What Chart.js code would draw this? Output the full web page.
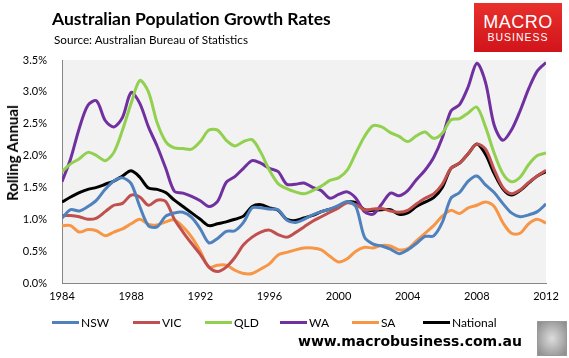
<!DOCTYPE html>
<html>
<head>
<meta charset="utf-8">
<script src="https://cdn.jsdelivr.net/npm/chart.js@4/dist/chart.umd.min.js"></script>
<style>
  body { margin: 0; background: #fff; }
  #wrap { position: relative; width: 569px; height: 358px; overflow: hidden; font-family: Lato, "Open Sans", sans-serif; }
  #chart { position: absolute; left: 0; top: 0; }
  .title { position: absolute; left: 52px; top: 8px; font-size: 17.5px; font-weight: bold; color: #000; }
  .sub { position: absolute; left: 54px; top: 32px; font-size: 11.7px; color: #000; }
  .ytitle { position: absolute; left: 12px; top: 153px; transform: translate(-50%, -50%) rotate(-90deg); font-size: 15px; font-weight: bold; white-space: nowrap; }
  .logo { position: absolute; left: 474px; top: 3px; width: 88px; height: 49px; background: linear-gradient(#e8302c, #d1141a); color: #fff; text-align: center; font-family: "Liberation Sans", Arial, sans-serif; }
  .logo .m { font-size: 18px; margin-top: 10px; line-height: 18px; letter-spacing: 0.5px; }
  .logo .b { font-size: 10.5px; line-height: 13px; letter-spacing: 1px; }
  .legend { position: absolute; top: 315px; left: 0; font-size: 12px; }
  .legend span { position: absolute; white-space: nowrap; }
  .legend i { display: inline-block; width: 27px; height: 3px; vertical-align: middle; margin-right: 2px; position: relative; top: -1px; }
  .web { position: absolute; left: 298px; top: 333px; font-family: "DejaVu Sans", sans-serif; font-weight: bold; font-size: 14px; color: #000; }
  .wolf { position: absolute; left: 537px; top: 321px; width: 28px; height: 33px; border: 1px solid #999; background: radial-gradient(#ddd, #888); }
</style>
</head>
<body>
<div id="wrap">
  <canvas id="chart" width="569" height="358"></canvas>
  <div class="title">Australian Population Growth Rates</div>
  <div class="sub">Source: Australian Bureau of Statistics</div>
  <div class="ytitle">Rolling Annual</div>
  <div class="logo"><div class="m">MACRO</div><div class="b">BUSINESS</div></div>
  <div class="legend" id="legend"></div>
  <div class="web">www.macrobusiness.com.au</div>
  <div class="wolf"></div>
</div>
<script>
// half-yearly observations, 1984.0 .. 2012.0
const years = [];
for (let y = 1984; y <= 2012; y += 0.5) years.push(y);

const nsw = [1.02, 1.15, 1.13, 1.20, 1.30, 1.47, 1.60, 1.65, 1.56, 1.20,
  0.90, 0.88, 1.05, 1.10, 1.11, 1.03, 0.85, 0.63, 0.70, 0.81,
  0.82, 0.95, 1.18, 1.18, 1.16, 1.15, 0.99, 0.95, 1.00, 1.07,
  1.12, 1.16, 1.22, 1.28, 1.20, 0.72, 0.61, 0.58, 0.53, 0.46,
  0.52, 0.62, 0.73, 0.74, 0.95, 1.33, 1.42, 1.60, 1.68, 1.54,
  1.42, 1.25, 1.10, 1.04, 1.07, 1.12, 1.24];
const vic = [1.06, 1.06, 1.04, 1.00, 1.02, 1.12, 1.22, 1.25, 1.38, 1.35,
  1.22, 1.30, 1.28, 1.00, 0.80, 0.62, 0.45, 0.25, 0.18, 0.25,
  0.40, 0.60, 0.72, 0.80, 0.83, 0.76, 0.72, 0.79, 0.88, 0.97,
  1.04, 1.11, 1.18, 1.26, 1.23, 1.15, 1.16, 1.17, 1.13, 1.11,
  1.14, 1.24, 1.33, 1.40, 1.55, 1.80, 1.88, 2.03, 2.18, 2.10,
  1.78, 1.50, 1.40, 1.46, 1.58, 1.68, 1.77];
const qld = [1.75, 1.87, 1.95, 2.05, 2.00, 1.92, 2.05, 2.40, 2.82, 3.18,
  3.00, 2.52, 2.22, 2.12, 2.11, 2.10, 2.22, 2.40, 2.40, 2.24,
  2.15, 2.22, 2.25, 2.05, 1.77, 1.56, 1.48, 1.43, 1.40, 1.45,
  1.52, 1.61, 1.65, 1.77, 2.04, 2.30, 2.47, 2.45, 2.36, 2.30,
  2.22, 2.31, 2.37, 2.27, 2.35, 2.56, 2.58, 2.67, 2.76, 2.45,
  2.04, 1.72, 1.59, 1.66, 1.86, 2.00, 2.04];
const wa = [1.59, 1.95, 2.43, 2.79, 2.86, 2.55, 2.45, 2.60, 2.99, 2.82,
  2.45, 2.15, 1.80, 1.44, 1.41, 1.36, 1.29, 1.20, 1.28, 1.58,
  1.67, 1.80, 1.92, 1.88, 1.80, 1.75, 1.55, 1.55, 1.57, 1.50,
  1.45, 1.33, 1.39, 1.43, 1.33, 1.12, 1.08, 1.24, 1.41, 1.37,
  1.45, 1.62, 1.77, 1.97, 2.28, 2.70, 2.80, 3.08, 3.45, 3.15,
  2.48, 2.24, 2.40, 2.70, 3.05, 3.33, 3.46];
const sa = [0.90, 0.90, 0.80, 0.84, 0.82, 0.74, 0.80, 0.85, 0.93, 1.00,
  0.92, 0.91, 0.96, 0.99, 0.88, 0.72, 0.50, 0.25, 0.28, 0.28,
  0.20, 0.15, 0.15, 0.22, 0.30, 0.44, 0.48, 0.52, 0.55, 0.55,
  0.52, 0.42, 0.33, 0.38, 0.50, 0.56, 0.55, 0.59, 0.58, 0.52,
  0.54, 0.66, 0.78, 0.90, 1.05, 1.14, 1.09, 1.18, 1.22, 1.27,
  1.20, 0.95, 0.78, 0.78, 0.93, 1.00, 0.94];
const national = [1.27, 1.35, 1.42, 1.47, 1.50, 1.55, 1.60, 1.68, 1.76, 1.66,
  1.49, 1.47, 1.42, 1.30, 1.20, 1.10, 1.00, 0.90, 0.93, 0.96,
  1.00, 1.05, 1.20, 1.23, 1.18, 1.14, 1.00, 0.98, 1.02, 1.06,
  1.12, 1.16, 1.20, 1.27, 1.26, 1.15, 1.14, 1.15, 1.15, 1.08,
  1.10, 1.20, 1.27, 1.34, 1.50, 1.80, 1.88, 2.03, 2.18, 2.02,
  1.72, 1.48, 1.38, 1.45, 1.57, 1.68, 1.75];

const seriesNames = ['NSW', 'VIC', 'QLD', 'WA', 'SA', 'National'];
const seriesData = [nsw, vic, qld, wa, sa, national];
const colours = ['#4f81bd', '#c0504d', '#92d050', '#7030a0', '#f79646', '#000000'];
const legendX = [52, 133, 205, 280, 352, 423];

const toPoints = (vals) => vals.map((v, i) => ({ x: years[i], y: v }));

const datasets = seriesNames.map((name, i) => ({
    label: name,
    data: toPoints(seriesData[i]),
    borderColor: colours[i],
    borderWidth: 3,
    pointRadius: 0,
    tension: 0.3,
    fill: false,
}));

// grey plot background
const plotBg = {
    id: 'plotBg',
    beforeDraw(chart) {
        const { ctx, chartArea: a } = chart;
        ctx.save();
        ctx.fillStyle = '#f2f2f2';
        ctx.fillRect(a.left, a.top, a.right - a.left, a.bottom - a.top);
        ctx.restore();
    },
};

new Chart(document.getElementById('chart'), {
    type: 'line',
    data: { datasets },
    options: {
        responsive: false,
        animation: false,
        layout: { padding: { top: 60, right: 23, bottom: 50, left: 0 } },
        plugins: { legend: { display: false }, tooltip: { enabled: false } },
        scales: {
            x: {
                type: 'linear',
                min: 1984,
                max: 2012,
                afterFit: (s) => { s.height = 25; },
                border: { color: '#868686', width: 1 },
                grid: { display: false, drawOnChartArea: false, drawTicks: true, tickLength: 5, color: '#868686' },
                ticks: {
                    stepSize: 4,
                    color: '#000',
                    padding: 2,
                    maxRotation: 0,
                    font: { family: 'Lato', size: 11 },
                    callback: (v) => String(v),
                },
            },
            y: {
                min: 0,
                max: 3.5,
                afterFit: (s) => { s.width = 62; },
                border: { color: '#868686', width: 1 },
                grid: { display: false },
                ticks: {
                    stepSize: 0.5,
                    color: '#000',
                    padding: 7,
                    font: { family: 'Lato', size: 11 },
                    callback: (v) => v.toFixed(1) + '%',
                },
            },
        },
    },
    plugins: [plotBg],
});

// legend
const legend = document.getElementById('legend');
seriesNames.forEach((name, i) => {
    const s = document.createElement('span');
    s.style.left = legendX[i] + 'px';
    s.innerHTML = '<i style="background:' + colours[i] + '"></i>' + name;
    legend.appendChild(s);
});
</script>
</body>
</html>
